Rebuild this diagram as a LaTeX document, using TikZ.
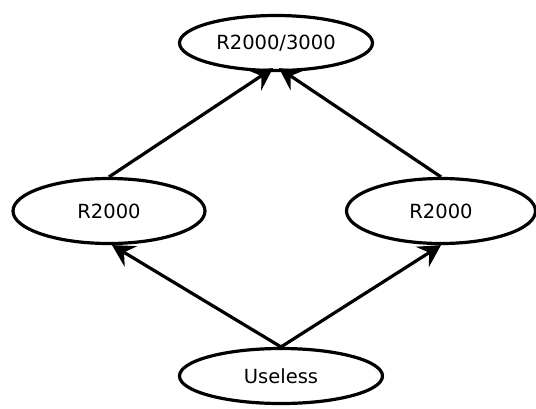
\documentclass[tikz,border=0pt]{standalone}
\usepackage{fontspec}
\setmainfont{DejaVu Sans}
\usetikzlibrary{arrows.meta,shapes.geometric}
\begin{document}
\begin{tikzpicture}[x=1pt,y=-1pt,
   st/.style={ellipse,draw,line width=3.2pt,inner sep=0pt,
              font=\fontsize{19.5}{23}\selectfont},
   ar/.style={line width=3.2pt,-{Stealth[length=22pt,width=24pt,inset=8pt]}}]
   % frame
   \useasboundingbox (0,0) rectangle (536,408);
   % states
   \node[st,minimum width=193pt,minimum height=55pt] (top)   at (276,43)  {R2000/3000};
   \node[st,minimum width=192pt,minimum height=65pt] (left)  at (109,211) {R2000};
   \node[st,minimum width=189pt,minimum height=65pt] (right) at (441,211) {R2000};
   \node[st,minimum width=203pt,minimum height=55pt] (bot)   at (281,376) {Useless};
   % moves
   \draw[ar] (left.north)  -- ([xshift=-3pt,yshift=4pt]top.south);
   \draw[ar] (right.north) -- ([xshift=3pt,yshift=4pt]top.south);
   \draw[ar] (bot.north) -- ([xshift=3pt]left.south);
   \draw[ar] (bot.north) -- (right.south);
\end{tikzpicture}
\end{document}
